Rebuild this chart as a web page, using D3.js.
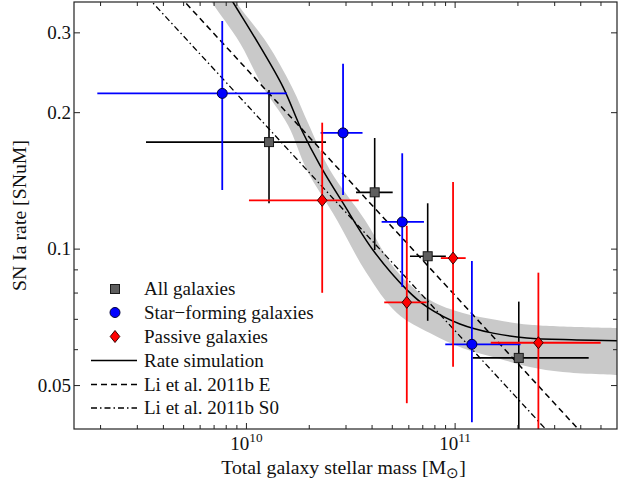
<!DOCTYPE html>
<html>
<head>
<meta charset="utf-8">
<script src="https://cdn.jsdelivr.net/npm/d3@7"></script>
<style>
html,body{margin:0;padding:0;background:#fff;}
svg{display:block;font-family:"Liberation Serif","Times New Roman",serif;}
</style>
</head>
<body>
<script>
// ---------------- data ----------------
// All galaxies
const allMass   = [1.29e10, 4.14e10, 7.43e10, 2.03e11];
const allMassLo = [3.32e9, 3.37e10, 6.11e10, 1.22e11];
const allMassHi = [2.42e10, 5.05e10, 9.08e10, 4.39e11];
const allRate   = [0.1718, 0.1331, 0.0962, 0.0574];
const allRateLo = [0.1259, 0.0993, 0.0693, 0.035];
const allRateHi = [0.2238, 0.1754, 0.1259, 0.0764];
// Star-forming galaxies
const sfMass   = [7.70e9, 2.92e10, 5.61e10, 1.21e11];
const sfMassLo = [1.94e9, 2.28e10, 4.47e10, 9.02e10];
const sfMassHi = [1.57e10, 3.62e10, 7.13e10, 2.07e11];
const sfRate   = [0.2200, 0.1800, 0.1145, 0.0615];
const sfRateLo = [0.1347, 0.1313, 0.0823, 0.0414];
const sfRateHi = [0.3178, 0.2558, 0.1623, 0.0939];
// Passive galaxies
const pasMass   = [2.32e10, 5.90e10, 9.83e10, 2.52e11];
const pasMassLo = [1.034e10, 4.60e10, 8.59e10, 1.49e11];
const pasMassHi = [3.47e10, 7.34e10, 1.13e11, 5.01e11];
const pasRate   = [0.1278, 0.0761, 0.0953, 0.0620];
const pasRateLo = [0.0799, 0.0456, 0.0549, 0.035];
const pasRateHi = [0.1896, 0.1123, 0.1403, 0.0885];
// Rate simulation (solid) and its band
const simMass = [7.5e9, 8.66e9, 1.142e10, 1.504e10, 1.849e10, 2.262e10, 2.916e10, 4.06e10, 5.91e10, 7.37e10, 1.06e11, 1.526e11, 2.22e11, 3.855e11, 6.0e11];
const simRate = [0.391, 0.350, 0.2843, 0.2274, 0.1827, 0.1529, 0.1261, 0.0993, 0.0811, 0.0744, 0.0682, 0.0651, 0.0635, 0.0629, 0.0626];
const bandUpMass = [7.67e9, 8.96e9, 1.261e10, 1.661e10, 2.004e10, 2.527e10, 3.717e10, 5.23e10, 7.61e10, 1.096e11, 1.595e11, 2.296e11, 6.0e11];
const bandUpRate = [0.395, 0.350, 0.2843, 0.2274, 0.1874, 0.1491, 0.1157, 0.0897, 0.0770, 0.0721, 0.0696, 0.0679, 0.0668];
const bandLoMass = [5.80e9, 6.85e9, 9.36e9, 1.206e10, 1.589e10, 1.96e10, 2.729e10, 3.758e10, 5.29e10, 7.61e10, 1.096e11, 1.595e11, 2.296e11, 3.30e11, 6.0e11];
const bandLoRate = [0.395, 0.350, 0.2843, 0.2274, 0.1874, 0.1491, 0.1157, 0.0888, 0.0721, 0.0651, 0.0603, 0.0574, 0.0548, 0.0534, 0.0526];
// Li et al. 2011b
const liEMass = [1e9, 1e12];
const liERate = [0.79, 0.025];
const liS0Mass = [1e9, 1e12];
const liS0Rate = [0.659, 0.0209];
// ticks
const xMajor = [1e10, 1e11];
const xMinor = [2e9,3e9,4e9,5e9,6e9,7e9,8e9,9e9,2e10,3e10,4e10,5e10,6e10,7e10,8e10,9e10,2e11,3e11,4e11,5e11];
const yMajor = [0.05, 0.1, 0.2, 0.3];
const yMajorLabels = ["0.05", "0.1", "0.2", "0.3"];
const yMinor = [0.06, 0.07, 0.08, 0.09];
const legendLabels = ["All galaxies", "Star\u2212forming galaxies", "Passive galaxies", "Rate simulation", "Li et al. 2011b E", "Li et al. 2011b S0"];

// ---------------- layout ----------------
const W = 626, H = 483;
const L = 74, R = 617, T = 2, B = 429;
const FS = 19;
const FSL = 19.8;

const svg = d3.select("body").append("svg").attr("width", W).attr("height", H);
const x = d3.scaleLog().domain([1.5e9, 6e11]).range([L, R]);
const y = d3.scaleLog().domain([0.04, 0.35]).range([B, T]);

svg.append("defs").append("clipPath").attr("id", "clip")
  .append("rect").attr("x", L).attr("y", T).attr("width", R - L).attr("height", B - T);
const plot = svg.append("g").attr("clip-path", "url(#clip)");

// band: upper edge forward, lower edge backward
const up = bandUpMass.map((m, i) => [x(m), y(bandUpRate[i])]);
const lo = bandLoMass.map((m, i) => [x(m), y(bandLoRate[i])]);
const lineCR = d3.line().curve(d3.curveCatmullRom.alpha(0.5));
const poly = lineCR(up) + "L" + lineCR(lo.slice().reverse()).slice(1) + "Z";
plot.append("path").attr("d", poly).attr("fill", "#c9c9c9").attr("stroke", "none");

// Li lines
const logLine = d3.line().x(d => x(d[0])).y(d => y(d[1]));
plot.append("path").attr("d", logLine(liS0Mass.map((m, i) => [m, liS0Rate[i]])))
  .attr("fill", "none").attr("stroke", "#000").attr("stroke-width", 1.3).attr("stroke-dasharray", "6,3,1.5,3");
plot.append("path").attr("d", logLine(liEMass.map((m, i) => [m, liERate[i]])))
  .attr("fill", "none").attr("stroke", "#000").attr("stroke-width", 1.5).attr("stroke-dasharray", "6,4");
// simulation
const simLine = d3.line().x(d => x(d[0])).y(d => y(d[1])).curve(d3.curveCatmullRom.alpha(0.5));
plot.append("path").attr("d", simLine(simMass.map((m, i) => [m, simRate[i]])))
  .attr("fill", "none").attr("stroke", "#000").attr("stroke-width", 1.5);

// series
function series(mass, mLo, mHi, rate, rLo, rHi, color, sw, marker) {
  const g = plot.append("g");
  mass.forEach((m, i) => {
    g.append("line").attr("x1", x(mLo[i])).attr("x2", x(mHi[i])).attr("y1", y(rate[i])).attr("y2", y(rate[i]))
      .attr("stroke", color).attr("stroke-width", sw);
    g.append("line").attr("x1", x(m)).attr("x2", x(m)).attr("y1", y(rLo[i])).attr("y2", y(rHi[i]))
      .attr("stroke", color).attr("stroke-width", sw);
  });
  mass.forEach((m, i) => marker(svg, x(m), y(rate[i])));
}
function sq(sel, cx, cy) {
  sel.append("rect").attr("x", cx - 4.5).attr("y", cy - 4.5).attr("width", 9).attr("height", 9)
    .attr("fill", "#5e5e5e").attr("stroke", "#1a1a1a").attr("stroke-width", 1);
}
function circ(sel, cx, cy) {
  sel.append("circle").attr("cx", cx).attr("cy", cy).attr("r", 5)
    .attr("fill", "#0000ff").attr("stroke", "#00003a").attr("stroke-width", 1);
}
function dia(sel, cx, cy) {
  sel.append("path").attr("d", `M${cx},${cy - 6}L${cx + 4.8},${cy}L${cx},${cy + 6}L${cx - 4.8},${cy}Z`)
    .attr("fill", "#ff0000").attr("stroke", "#3a0000").attr("stroke-width", 1);
}
series(allMass, allMassLo, allMassHi, allRate, allRateLo, allRateHi, "#000", 1.6, sq);
series(sfMass, sfMassLo, sfMassHi, sfRate, sfRateLo, sfRateHi, "#0000ff", 1.8, circ);
series(pasMass, pasMassLo, pasMassHi, pasRate, pasRateLo, pasRateHi, "#ff0000", 1.8, dia);

// ---------------- axes ----------------
function styleAxis(g) {
  g.select(".domain").remove();
  g.selectAll(".tick line").attr("stroke", "#222").attr("stroke-width", 1);
  g.selectAll("text").attr("font-family", "Liberation Serif, serif").attr("font-size", FS).attr("fill", "#111");
}
// bottom
const xb = svg.append("g").attr("transform", `translate(0,${B})`)
  .call(d3.axisBottom(x).tickValues(xMajor).tickSizeInner(-6).tickSizeOuter(0).tickPadding(8).tickFormat(d => ""));
styleAxis(xb);
xb.selectAll(".tick text").each(function(d) {
  const t = d3.select(this).attr("dy", null).attr("y", 21).attr("text-anchor", "middle");
  t.append("tspan").text("10");
  t.append("tspan").attr("dy", -8).attr("font-size", FS * 0.7).text(String(Math.round(Math.log10(d))));
});
svg.append("g").attr("transform", `translate(0,${B})`)
  .call(d3.axisBottom(x).tickValues(xMinor).tickSizeInner(-4).tickSizeOuter(0).tickFormat(""))
  .call(styleAxis);
// top
svg.append("g").attr("transform", `translate(0,${T})`)
  .call(d3.axisTop(x).tickValues(xMajor).tickSizeInner(-6).tickSizeOuter(0).tickFormat(""))
  .call(styleAxis);
svg.append("g").attr("transform", `translate(0,${T})`)
  .call(d3.axisTop(x).tickValues(xMinor).tickSizeInner(-4).tickSizeOuter(0).tickFormat(""))
  .call(styleAxis);
// left
svg.append("g").attr("transform", `translate(${L},0)`)
  .call(d3.axisLeft(y).tickValues(yMajor).tickSizeInner(-6).tickSizeOuter(0).tickPadding(3)
    .tickFormat((d, i) => yMajorLabels[i]))
  .call(styleAxis);
svg.append("g").attr("transform", `translate(${L},0)`)
  .call(d3.axisLeft(y).tickValues(yMinor).tickSizeInner(-4).tickSizeOuter(0).tickFormat(""))
  .call(styleAxis);
// right
svg.append("g").attr("transform", `translate(${R},0)`)
  .call(d3.axisRight(y).tickValues(yMajor).tickSizeInner(-6).tickSizeOuter(0).tickFormat(""))
  .call(styleAxis);
svg.append("g").attr("transform", `translate(${R},0)`)
  .call(d3.axisRight(y).tickValues(yMinor).tickSizeInner(-4).tickSizeOuter(0).tickFormat(""))
  .call(styleAxis);

// frame
svg.append("rect").attr("x", L).attr("y", T).attr("width", R - L).attr("height", B - T)
  .attr("fill", "none").attr("stroke", "#222").attr("stroke-width", 1.2);

// axis labels
const xl = svg.append("text").attr("x", (L + R) / 2 - 2).attr("y", 474).attr("text-anchor", "middle")
  .attr("font-size", FSL).attr("fill", "#111");
xl.append("tspan").text("Total galaxy stellar mass [M");
xl.append("tspan").attr("font-size", FSL * 0.75).attr("dy", 4).text("\u2299");
xl.append("tspan").attr("dy", -4).text("]");
svg.append("text").attr("transform", `translate(26,${(T + B) / 2}) rotate(-90)`).attr("text-anchor", "middle")
  .attr("font-size", FSL).attr("fill", "#111").text("SN Ia rate [SNuM]");

// ---------------- legend ----------------
const legY = [289, 312.5, 336.5, 360.5, 384.5, 408];
const lg = svg.append("g");
sq(lg, 115, legY[0]);
circ(lg, 115, legY[1]);
dia(lg, 115, legY[2]);
lg.append("line").attr("x1", 91).attr("x2", 137).attr("y1", legY[3]).attr("y2", legY[3]).attr("stroke", "#000").attr("stroke-width", 1.5);
lg.append("line").attr("x1", 91).attr("x2", 137).attr("y1", legY[4]).attr("y2", legY[4]).attr("stroke", "#000").attr("stroke-width", 1.5).attr("stroke-dasharray", "6,4");
lg.append("line").attr("x1", 91).attr("x2", 137).attr("y1", legY[5]).attr("y2", legY[5]).attr("stroke", "#000").attr("stroke-width", 1.3).attr("stroke-dasharray", "6,3,1.5,3");
legendLabels.forEach((t, i) => {
  lg.append("text").attr("x", 144).attr("y", legY[i] + 6).attr("font-size", FS).attr("fill", "#111").text(t);
});
</script>
</body>
</html>
